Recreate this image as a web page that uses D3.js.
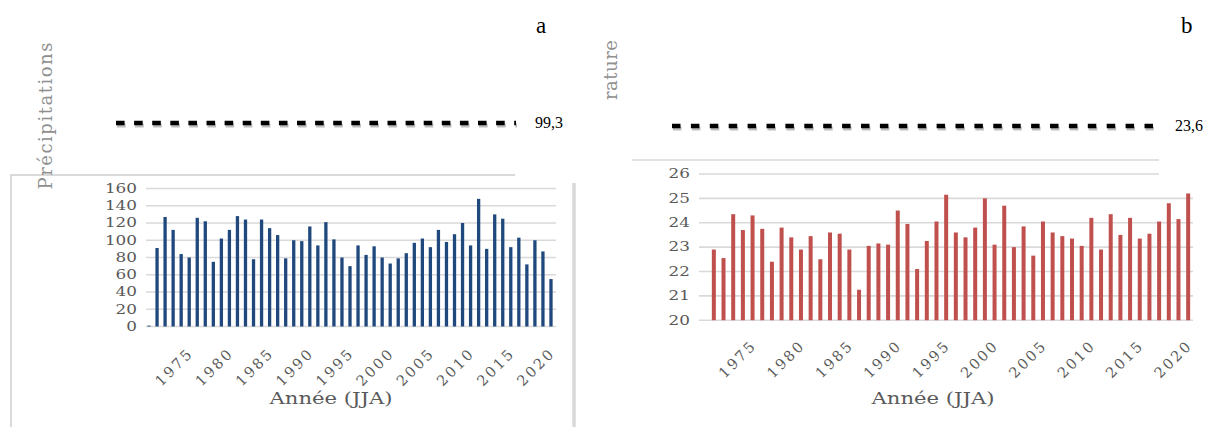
<!DOCTYPE html>
<html>
<head>
<meta charset="utf-8">
<script src="https://d3js.org/d3.v7.min.js"></script>
<style>
    body { margin: 0; background: #fff; }
</style>
</head>
<body>
<div id="chart"></div>
<script>
var svgWidth = 1209;
var svgHeight = 427;

// (a) summer precipitation, first year is almost empty
var precipYears = d3.range(1970, 2021);
var precipValues = [1,
    91, 127, 112, 84, 80, 126, 122, 75, 102, 112,
    128, 124, 78, 124, 114, 106, 79, 100, 99, 116,
    94, 121, 101, 80, 70, 94, 83, 93, 80, 73,
    79, 85, 97, 102, 92, 112, 98, 107, 120, 94,
    148, 90, 130, 125, 92, 103, 72, 100, 87, 55];
var precipTicks = [0, 20, 40, 60, 80, 100, 120, 140, 160];

// (b) summer temperature
var tempYears = d3.range(1971, 2021);
var tempValues = [
    22.9, 22.55, 24.35, 23.7, 24.3, 23.75, 22.4, 23.8, 23.4, 22.9,
    23.45, 22.5, 23.6, 23.55, 22.9, 21.25, 23.05, 23.15, 23.1, 24.5,
    23.95, 22.1, 23.25, 24.05, 25.15, 23.6, 23.4, 23.8, 25.0, 23.1,
    24.7, 23.0, 23.85, 22.65, 24.05, 23.6, 23.45, 23.35, 23.05, 24.2,
    22.9, 24.35, 23.5, 24.2, 23.35, 23.55, 24.05, 24.8, 24.15, 25.2];
var tempTicks = [20, 21, 22, 23, 24, 25, 26];

var yearTicks = [1975, 1980, 1985, 1990, 1995, 2000, 2005, 2010, 2015, 2020];
var meanLabels = ["99,3", "23,6"];
var panelLetters = ["a", "b"];
var yTitles = ["Précipitations", "rature"];
var xTitle = "Année (JJA)";

var serif = "'DejaVu Serif', serif";
var gridColor = "#d9d9d9";

var svg = d3.select("#chart")
    .append("svg")
    .attr("width", svgWidth)
    .attr("height", svgHeight);

// frames left over from the two pasted charts
svg.append("path")
    .attr("d", "M11,427 V175 H515")
    .attr("fill", "none")
    .attr("stroke", gridColor)
    .attr("stroke-width", 2);
svg.append("line")
    .attr("x1", 574).attr("x2", 574)
    .attr("y1", 183).attr("y2", 427)
    .attr("stroke", gridColor)
    .attr("stroke-width", 3.5);
svg.append("line")
    .attr("x1", 632).attr("x2", 1159)
    .attr("y1", 160).attr("y2", 160)
    .attr("stroke", gridColor)
    .attr("stroke-width", 1.6);

var panels = [
    {
        years: precipYears, values: precipValues, ticks: precipTicks,
        domain: [0, 160], left: 145, right: 555, pad: 0.59,
        bottom: 326.5, top: 188.5, gridLeft: 146, gridRight: 556,
        color: "#1f497d", xLabelDy: 24.5,
        meanX: [116, 516], meanY: 123, meanDash: "8.6,9.5", meanLabelX: 535, meanLabelY: 128,
        letterX: 536, titleX: 52, titleY: 116, titleLen: 147,
        xTitleX: 331
    },
    {
        years: tempYears, values: tempValues, ticks: tempTicks,
        domain: [20, 26], left: 709, right: 1193, pad: 0.587,
        bottom: 320.2, top: 174, gridLeft: 699, gridRight: 1193,
        shortTick: 26, shortRight: 1159,
        color: "#c0504d", xLabelDy: 23,
        meanX: [672, 1155], meanY: 126, meanDash: "8.5,10.4", meanLabelX: 1175, meanLabelY: 131,
        letterX: 1181, titleX: 617, titleY: 70, titleLen: 60,
        xTitleX: 933
    }
];

function drawPanel(p, i) {
    var xBandScale = d3.scaleBand()
        .domain(p.years)
        .range([p.left, p.right])
        .paddingInner(p.pad)
        .paddingOuter(p.pad / 2);

    var yLinearScale = d3.scaleLinear()
        .domain(p.domain)
        .range([p.bottom, p.top]);

    // horizontal gridlines
    svg.append("g")
        .selectAll("line")
        .data(p.ticks)
        .enter()
        .append("line")
        .attr("x1", p.gridLeft)
        .attr("x2", d => d === p.shortTick ? p.shortRight : p.gridRight)
        .attr("y1", d => yLinearScale(d))
        .attr("y2", d => yLinearScale(d))
        .attr("stroke", gridColor)
        .attr("stroke-width", 1.6);

    // y axis labels
    var leftAxis = d3.axisLeft(yLinearScale)
        .tickValues(p.ticks)
        .tickFormat(d3.format("d"))
        .tickSize(0)
        .tickPadding(9);
    var yAxis = svg.append("g")
        .attr("transform", `translate(${p.gridLeft}, 0)`)
        .call(leftAxis);
    yAxis.select(".domain").remove();
    yAxis.selectAll("text")
        .attr("font-family", serif)
        .attr("font-size", 12)
        .attr("fill", "#595959")
        .attr("textLength", d => String(d).length * 10.7)
        .attr("lengthAdjust", "spacingAndGlyphs");

    // x axis labels, slanted
    var bottomAxis = d3.axisBottom(xBandScale)
        .tickValues(yearTicks)
        .tickSize(0);
    var xAxis = svg.append("g")
        .attr("transform", `translate(0, ${p.bottom})`)
        .call(bottomAxis);
    xAxis.select(".domain").remove();
    xAxis.selectAll("text")
        .attr("x", 0)
        .attr("y", 0)
        .attr("dy", 0)
        .attr("transform", `translate(5, ${p.xLabelDy + 3}) rotate(-45)`)
        .style("text-anchor", "end")
        .style("letter-spacing", "2.4px")
        .attr("font-family", serif)
        .attr("font-size", 14.5)
        .attr("fill", "#595959");

    // bars
    svg.append("g")
        .selectAll("rect")
        .data(p.values)
        .enter()
        .append("rect")
        .attr("x", (d, j) => xBandScale(p.years[j]))
        .attr("width", xBandScale.bandwidth())
        .attr("y", d => yLinearScale(d))
        .attr("height", d => p.bottom - yLinearScale(d))
        .attr("fill", p.color);

    // dashed mean line with its soft shadow
    svg.append("line")
        .attr("x1", p.meanX[0] + 1).attr("x2", p.meanX[1] + 1)
        .attr("y1", p.meanY + 2.5).attr("y2", p.meanY + 2.5)
        .attr("stroke", "#bdbdbd")
        .attr("stroke-width", 4)
        .attr("stroke-dasharray", p.meanDash);
    svg.append("line")
        .attr("x1", p.meanX[0]).attr("x2", p.meanX[1])
        .attr("y1", p.meanY).attr("y2", p.meanY)
        .attr("stroke", "#000")
        .attr("stroke-width", 4.5)
        .attr("stroke-dasharray", p.meanDash);

    svg.append("text")
        .attr("x", p.meanLabelX)
        .attr("y", p.meanLabelY)
        .attr("font-family", "'Liberation Serif', serif")
        .attr("font-size", 16)
        .attr("fill", "#000")
        .text(meanLabels[i]);

    // panel letter
    svg.append("text")
        .attr("x", p.letterX)
        .attr("y", 33)
        .attr("font-family", "'Liberation Serif', serif")
        .attr("font-size", 23)
        .attr("fill", "#000")
        .text(panelLetters[i]);

    // y title, thin and spread out
    svg.append("text")
        .attr("transform", `translate(${p.titleX}, ${p.titleY}) rotate(-90)`)
        .attr("text-anchor", "middle")
        .attr("font-family", serif)
        .attr("font-size", 18)
        .attr("fill", "#8f8f8f")
        .attr("textLength", p.titleLen)
        .attr("lengthAdjust", "spacing")
        .text(yTitles[i]);

    // x title
    svg.append("text")
        .attr("x", p.xTitleX)
        .attr("y", 404)
        .attr("text-anchor", "middle")
        .attr("font-family", serif)
        .attr("font-size", 17)
        .attr("fill", "#595959")
        .attr("textLength", 123)
        .attr("lengthAdjust", "spacingAndGlyphs")
        .text(xTitle);
}

panels.forEach(drawPanel);
</script>
</body>
</html>
